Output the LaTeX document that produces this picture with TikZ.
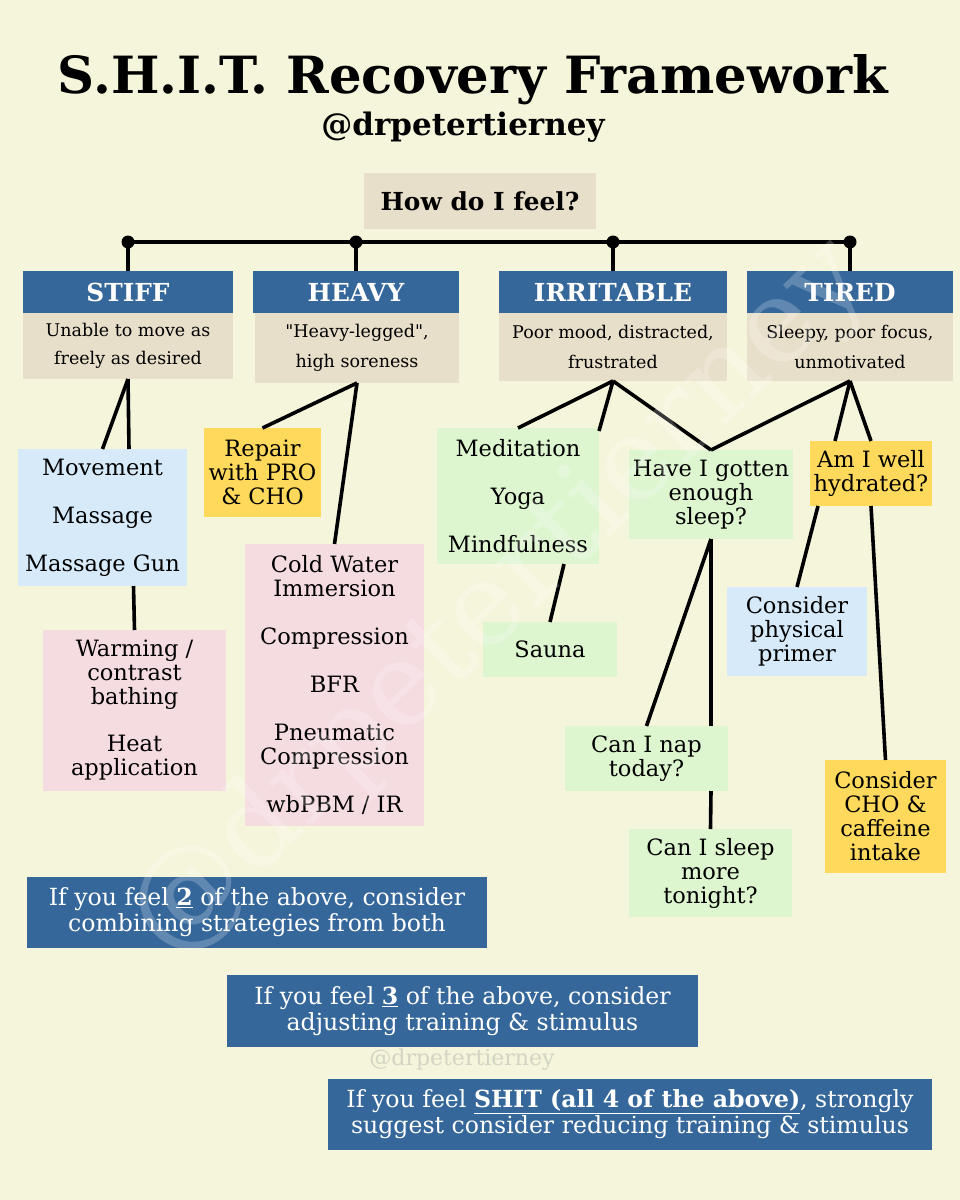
\documentclass[tikz,border=0pt]{standalone}
\usepackage{fontspec}
\setmainfont{DejaVu Serif}
\usetikzlibrary{calc}
\definecolor{bgc}{HTML}{F5F5DC}
\definecolor{hblue}{HTML}{35679A}
\definecolor{beigec}{HTML}{E8DFCA}
\definecolor{lblue}{HTML}{D6EAFA}
\definecolor{pinkc}{HTML}{F5DCE1}
\definecolor{yel}{HTML}{FFD95B}
\definecolor{grn}{HTML}{DEF6D0}
\definecolor{wmk}{HTML}{D4D4C4}
\newcommand\TitleF{\fontsize{51.3}{54}\selectfont\bfseries}
\newcommand\HandleF{\fontsize{31}{32}\selectfont\bfseries}
\newcommand\HeadF{\fontsize{24.8}{26}\selectfont\bfseries}
\newcommand\DescF{\fontsize{17.5}{28}\selectfont}
\newcommand\DescFb{\fontsize{17.5}{30}\selectfont}
\newcommand\BodyF{\fontsize{22.5}{24}\selectfont}
\newcommand\BotF{\fontsize{23.6}{26}\selectfont}
\begin{document}
\begin{tikzpicture}[x=1pt,y=-1pt,
  box/.style={inner sep=0pt, outer sep=0pt, align=center, text=black, font=\BodyF},
  wh/.style 2 args={minimum width=#1pt, minimum height=#2pt},
  head/.style={box, fill=hblue, text=white, font=\HeadF},
  desc/.style={box, fill=beigec, font=\DescF},
  bot/.style={box, fill=hblue, text=white, font=\BotF},
  conn/.style={line width=3.6pt, black}]
\fill[bgc] (0,0) rectangle (960,1200);
\useasboundingbox (0,0) rectangle (960,1200);

% title
\node[box, font=\TitleF] (title) at (473,80) {S.H.I.T. Recovery Framework};
\node[box, font=\HandleF] (handle) at (463,127) {@drpetertierney};

% question
\node[box, fill=beigec, wh={232}{56}, font=\HeadF] (q) at (480,201) {How do I feel?};

% headers
\node[head, wh={210}{42}] (h1) at (128,292) {STIFF};
\node[head, wh={206}{42}] (h2) at (356,292) {HEAVY};
\node[head, wh={228}{42}] (h3) at (613,292) {IRRITABLE};
\node[head, wh={206}{42}] (h4) at (850,292) {TIRED};

\node[desc, wh={210}{66}] (s1) at (128,346) {Unable to move as\\freely as desired};
\node[desc, wh={204}{70}, font=\DescFb] (s2) at (357,348) {\textquotedbl Heavy-legged\textquotedbl,\\high soreness};
\node[desc, wh={228}{68}, font=\DescFb] (s3) at (613,347) {Poor mood, distracted,\\frustrated};
\node[desc, wh={206}{68}, font=\DescFb] (s4) at (850,347) {Sleepy, poor focus,\\unmotivated};

% bar
\coordinate (d1) at ([yshift=29pt]h1.north);
\coordinate (d2) at ([yshift=29pt]h2.north);
\coordinate (d3) at ([yshift=29pt]h3.north);
\coordinate (d4) at ([yshift=29pt]h4.north);
\draw[conn] (d1) -- (d4);
\foreach \d/\h in {d1/h1,d2/h2,d3/h3,d4/h4}{
  \draw[conn] (\d) -- (\h.north);
  \fill (\d) circle (6.5pt);
}

% STIFF branch
\node[box, fill=lblue, wh={169}{137}] (mv) at (102.5,517.5) {Movement\\[24pt]Massage\\[24pt]Massage Gun};
\node[box, fill=pinkc, wh={183}{161}] (warm) at (134.5,710.5) {Warming /\\contrast\\bathing\\[23pt]Heat\\application};

% HEAVY branch
\node[box, fill=yel, wh={117}{89}] (rep) at (262.5,472.5) {Repair\\with PRO\\\& CHO};
\node[box, fill=pinkc, wh={179}{282}] (cold) at (334.5,685) {Cold Water\\Immersion\\[24pt]Compression\\[24pt]BFR\\[24pt]Pneumatic\\Compression\\[24pt]wbPBM / IR};

% IRRITABLE branch
\node[box, fill=grn, wh={162}{136}] (med) at (518,496) {Meditation\\[24pt]Yoga\\[24pt]Mindfulness};
\node[box, fill=grn, wh={134}{55}] (sauna) at (550,649.5) {Sauna};

% TIRED branch
\node[box, fill=grn, wh={164}{89}] (have) at (711,494.5) {Have I gotten\\enough\\sleep?};
\node[box, fill=yel, wh={122}{65}] (well) at (871,473.5) {Am I well\\hydrated?};
\node[box, fill=grn, wh={163}{65}] (nap) at (646.5,758.5) {Can I nap\\today?};
\node[box, fill=grn, wh={163}{88}] (sleep) at (710.5,873) {Can I sleep\\more\\tonight?};
\node[box, fill=lblue, wh={140}{89}] (phys) at (797,631.5) {Consider\\physical\\primer};
\node[box, fill=yel, wh={121}{113}] (cho) at (885.5,816.5) {Consider\\CHO \&\\caffeine\\intake};

% connectors
\draw[conn] (s1.south) -- (mv.north);
\draw[conn] (s1.south) -- ([xshift=26.5pt]mv.north);
\draw[conn] ([xshift=31pt]mv.south) -- (warm.north);
\draw[conn] (s2.south) -- (rep.north);
\draw[conn] (s2.south) -- (cold.north);
\draw[conn] (s3.south) -- (med.north);
\draw[conn] (s3.south) -- ([yshift=-3pt]med.north east);
\draw[conn] (s3.south) -- (have.north);
\draw[conn] (s4.south) -- (have.north);
\draw[conn] (s4.south) -- ([xshift=-36pt]well.north);
\draw[conn] (s4.south) -- (well.north);
\draw[conn] ([xshift=46pt]med.south) -- (sauna.north);
\draw[conn] (have.south) -- (nap.north);
\draw[conn] (have.south) -- ([xshift=64.5pt]nap.north);
\draw[conn] ([xshift=64.5pt]nap.south) -- (sleep.north);
\draw[conn] ([xshift=-53pt]well.south) -- (phys.north);
\draw[conn] (well.south) -- (cho.north);

% bottom notes
\node[bot, wh={460}{71}] (b1) at (257,912.5) {If you feel \underline{\textbf{2}} of the above, consider\\combining strategies from both};
\node[bot, wh={471}{72}] (b2) at (462.5,1011) {If you feel \underline{\textbf{3}} of the above, consider\\adjusting training \& stimulus};
\node[bot, wh={604}{71}] (b3) at (630,1114.5) {If you feel \underline{\textbf{SHIT (all 4 of the above)}}, strongly\\suggest consider reducing training \& stimulus};

% watermarks
\node[box, text=wmk, font=\fontsize{22}{24}\selectfont] (wm2) at (462,1060) {@drpetertierney};
\node[box, text=white, opacity=0.22, rotate=44, font=\fontsize{116}{116}\selectfont] (wm) at (500,600) {@drpetertierney};
\end{tikzpicture}
\end{document}
